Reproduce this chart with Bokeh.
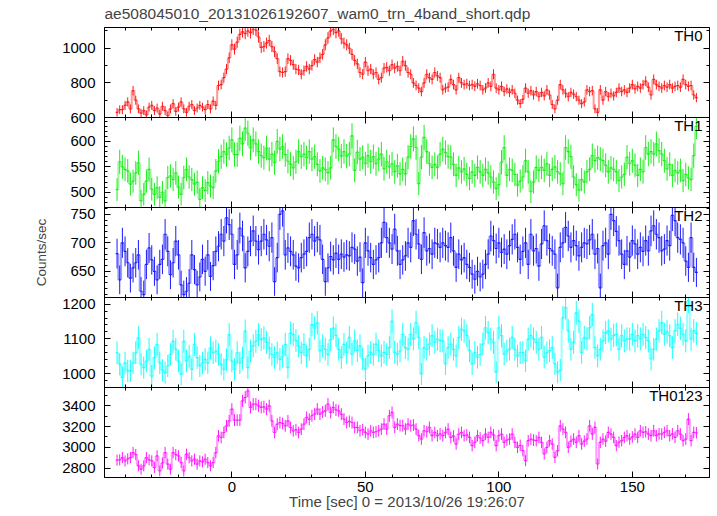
import numpy as np
from bokeh.plotting import figure
from bokeh.models import Range1d, LinearAxis, SingleIntervalTicker, Label, CustomLabelingPolicy
from bokeh.layouts import column
from bokeh.embed import file_html
from bokeh.resources import INLINE

TITLE = "ae508045010_20131026192607_wam0_trn_4band_short.qdp"
X_LABEL = "Time [sec] 0 = 2013/10/26 19:26:07"
Y_LABEL = "Counts/sec"
T_START = -43  # centre of first 1-s bin
X_RANGE = (-47.7, 178.9)

th0 = [630, 645, 645, 670, 690, 650, 755, 700, 650, 625,
       640, 615, 660, 670, 640, 655, 620, 665, 640, 610,
       650, 680, 635, 660, 690, 650, 630, 665, 675, 640,
       655, 670, 660, 645, 675, 650, 695, 670, 785, 790,
       830, 880, 945, 1020, 995, 1035, 1080, 1095, 1085, 1100,
       1090, 1110, 1105, 1065, 1005, 1010, 1030, 1045, 1010, 980,
       940, 865, 860, 865, 940, 930, 905, 880, 875, 850,
       870, 895, 880, 900, 935, 920, 945, 965, 1020, 1060,
       1100, 1110, 1090, 1100, 1055, 1030, 1020, 1000, 965, 930,
       910, 860, 850, 920, 870, 880, 850, 860, 820, 830,
       885, 890, 870, 905, 885, 895, 870, 925, 900, 860,
       850, 800, 785, 770, 750, 800, 850, 830, 820, 860,
       840, 830, 760, 770, 775, 820, 790, 760, 830, 800,
       790, 795, 785, 790, 780, 795, 785, 760, 770, 800,
       780, 850, 770, 760, 780, 750, 765, 745, 760, 740,
       700, 680, 705, 770, 740, 755, 730, 750, 720, 745,
       725, 760, 730, 675, 650, 700, 790, 760, 740, 720,
       745, 735, 720, 700, 680, 690, 760, 750, 755, 650,
       630, 760, 700, 750, 720, 740, 725, 745, 770, 750,
       760, 745, 770, 790, 765, 780, 770, 790, 810, 775,
       730, 820, 790, 780, 770, 785, 775, 790, 770, 780,
       785, 775, 820, 790, 780, 785, 730, 715]

th1 = [505, 560, 550, 545, 542, 516, 522, 538, 558, 483,
       496, 522, 545, 506, 496, 509, 490, 500, 483, 529,
       532, 525, 538, 510, 496, 529, 545, 530, 525, 516,
       520, 486, 509, 503, 519, 512, 509, 542, 561, 570,
       580, 574, 587, 603, 574, 574, 606, 595, 626, 616,
       587, 603, 595, 580, 572, 568, 587, 565, 575, 558,
       600, 585, 590, 574, 561, 555, 548, 560, 580, 570,
       575, 568, 580, 565, 570, 555, 542, 548, 545, 538,
       548, 603, 590, 585, 571, 580, 571, 575, 611, 543,
       579, 565, 569, 556, 572, 560, 570, 556, 565, 575,
       546, 560, 550, 556, 540, 552, 536, 545, 536, 569,
       590, 605, 588, 517, 569, 608, 580, 556, 549, 555,
       549, 575, 585, 578, 570, 569, 555, 533, 548, 540,
       546, 535, 527, 540, 533, 549, 540, 533, 545, 538,
       530, 520, 507, 515, 559, 588, 533, 545, 543, 535,
       514, 522, 530, 562, 540, 501, 520, 549, 543, 549,
       543, 556, 533, 545, 550, 540, 536, 517, 588, 580,
       570, 530, 515, 504, 525, 520, 540, 545, 572, 562,
       568, 565, 562, 553, 540, 548, 545, 540, 523, 530,
       535, 569, 556, 562, 553, 533, 545, 540, 588, 575,
       580, 575, 595, 582, 575, 562, 546, 555, 533, 543,
       538, 543, 523, 535, 528, 525, 572, 630]

th2 = [681, 635, 700, 685, 665, 638, 656, 665, 679, 615,
       609, 662, 691, 670, 650, 635, 662, 671, 715, 685,
       644, 665, 703, 679, 626, 609, 615, 629, 679, 653,
       626, 640, 671, 650, 679, 641, 660, 685, 694, 715,
       703, 744, 732, 715, 662, 679, 726, 712, 656, 685,
       703, 721, 703, 688, 703, 715, 705, 694, 709, 632,
       674, 750, 756, 679, 691, 685, 679, 659, 656, 674,
       680, 685, 709, 715, 703, 710, 705, 671, 632, 656,
       676, 670, 682, 671, 680, 675, 679, 677, 692, 689,
       668, 675, 630, 700, 686, 674, 662, 670, 674, 700,
       736, 709, 700, 689, 724, 686, 662, 670, 677, 700,
       692, 739, 715, 698, 671, 718, 686, 690, 680, 700,
       698, 692, 700, 695, 692, 709, 686, 657, 680, 670,
       674, 662, 657, 645, 636, 650, 640, 645, 662, 680,
       712, 704, 690, 700, 683, 689, 680, 695, 706, 715,
       692, 671, 685, 700, 662, 715, 686, 690, 659, 698,
       730, 704, 690, 686, 680, 621, 692, 700, 727, 712,
       692, 704, 695, 677, 692, 700, 698, 705, 715, 680,
       690, 621, 695, 700, 680, 750, 739, 720, 704, 680,
       662, 686, 675, 704, 698, 680, 692, 685, 704, 686,
       721, 730, 715, 709, 686, 689, 704, 695, 748, 739,
       709, 706, 700, 668, 657, 709, 657, 648]

th3 = [1060, 1027, 989, 1031, 1008, 1008, 1031, 1060, 1103, 1027,
       1017, 1036, 1070, 993, 1046, 1084, 1031, 1010, 1003, 1022,
       1055, 1093, 1070, 1036, 998, 1093, 1036, 1050, 1012, 1084,
       1046, 1022, 1030, 1041, 1031, 1074, 1060, 1065, 1055, 1027,
       1012, 1040, 1112, 1036, 1012, 1060, 1031, 1045, 1122, 1017,
       1065, 1080, 1093, 1112, 1098, 1103, 1090, 1074, 1055, 1046,
       1060, 1041, 1050, 1084, 1017, 1117, 1112, 1095, 1079, 1060,
       1084, 1051, 1070, 1141, 1131, 1146, 1065, 1080, 1070, 1055,
       1098, 1131, 1110, 1070, 1046, 1084, 1060, 1104, 1056, 1094,
       1066, 1080, 1042, 1013, 1051, 1061, 1055, 1085, 1066, 1051,
       1061, 1055, 1075, 1151, 1061, 1056, 1065, 1113, 1075, 1070,
       1113, 1100, 1147, 1104, 999, 1075, 1070, 1085, 1109, 1090,
       1099, 1095, 1094, 1028, 1075, 1085, 1070, 1051, 1104, 1128,
       1123, 1110, 1066, 1028, 1061, 1047, 1055, 1085, 1132, 1118,
       1099, 1090, 1004, 1132, 1109, 1056, 1065, 1070, 1104, 1070,
       1051, 1060, 1061, 1037, 1099, 1109, 1100, 1090, 1070, 1104,
       1047, 1060, 1066, 1075, 1028, 1004, 1010, 1161, 1190, 1123,
       1070, 1090, 1175, 1151, 1061, 1104, 1100, 1132, 1170, 1075,
       1051, 1070, 1094, 1118, 1123, 1099, 1110, 1113, 1070, 1109,
       1094, 1100, 1099, 1113, 1094, 1109, 1100, 1113, 1104, 1094,
       1042, 1070, 1099, 1123, 1147, 1113, 1120, 1109, 1075, 1123,
       1142, 1130, 1113, 1094, 1209, 1099, 1123, 1115]

th0123 = [2877, 2880, 2902, 2870, 2890, 2902, 2950, 2930, 2822, 2790,
          2822, 2902, 2880, 2870, 2806, 2918, 2774, 2850, 2950, 2838,
          2790, 2950, 2930, 2918, 2854, 2774, 2934, 2900, 2870, 2886,
          2838, 2870, 2860, 2886, 2854, 2822, 2854, 2950, 3111, 3095,
          3143, 3207, 3255, 3368, 3262, 3262, 3262, 3448, 3480, 3544,
          3384, 3416, 3416, 3400, 3384, 3390, 3368, 3400, 3255, 3143,
          3223, 3239, 3230, 3207, 3255, 3191, 3159, 3170, 3143, 3175,
          3223, 3288, 3270, 3304, 3320, 3368, 3320, 3340, 3352, 3416,
          3336, 3384, 3360, 3352, 3320, 3272, 3239, 3250, 3239, 3191,
          3192, 3160, 3170, 3144, 3128, 3160, 3144, 3150, 3160, 3176,
          3224, 3176, 3304, 3336, 3192, 3224, 3210, 3208, 3176, 3224,
          3208, 3215, 3176, 3112, 3080, 3160, 3150, 3192, 3112, 3144,
          3112, 3130, 3112, 3144, 3176, 3096, 3110, 3032, 3128, 3144,
          3112, 3120, 3096, 3016, 3048, 3112, 3090, 3064, 3128, 3096,
          3144, 3120, 3016, 3112, 3128, 3048, 3070, 3080, 3128, 3048,
          3000, 3020, 2968, 2872, 3064, 3080, 3070, 3064, 3096, 3048,
          2936, 3000, 3064, 3032, 2904, 2968, 3208, 3176, 3144, 3000,
          3060, 3080, 3048, 3112, 3032, 3060, 3080, 3208, 3128, 3192,
          2840, 3048, 3080, 3060, 3144, 3128, 3096, 3016, 3050, 3064,
          3096, 3112, 3080, 3100, 3128, 3096, 3160, 3144, 3150, 3128,
          3112, 3160, 3112, 3130, 3128, 3144, 3160, 3112, 3130, 3096,
          3160, 3128, 3064, 3080, 3272, 3064, 3144, 3140]

names = ["TH0", "TH1", "TH2", "TH3", "TH0123"]
series = [th0, th1, th2, th3, th0123]
colors = ["#ff1a1a", "#1aee1a", "#1a1aff", "#1affff", "#ff1aff"]
y_ranges = [(600, 1120), (470, 647), (604, 762), (960, 1219), (2710, 3576)]
y_major = [200, 50, 50, 100, 200]
y_minor_n = [2, 5, 5, 5, 2]

FONT = "Liberation Sans"
BORDER = 10

HIDE_LABELS = "for (const i of Array.from(indices)) { indices.unset(i) }\nreturn indices"


def style_axis(ax, ticker, labels, standoff=9):
    ax.ticker = ticker
    ax.major_tick_in = 6
    ax.major_tick_out = 0
    ax.minor_tick_in = 3
    ax.minor_tick_out = 0
    ax.axis_line_color = "black"
    ax.major_tick_line_color = "black"
    ax.minor_tick_line_color = "black"
    if labels:
        ax.major_label_text_font = FONT
        ax.major_label_text_font_size = "15px"
        ax.major_label_text_color = "black"
        ax.major_label_standoff = standoff
    else:
        ax.major_label_policy = CustomLabelingPolicy(code=HIDE_LABELS)
        ax.major_label_text_font_size = "1px"
        ax.major_label_standoff = 0


figs = []
n = len(series)
for k in range(n):
    first, last = k == 0, k == n - 1
    p = figure(frame_width=605, frame_height=90,
               x_range=Range1d(*X_RANGE), y_range=Range1d(*y_ranges[k]),
               output_backend="svg", toolbar_location=None,
               min_border_left=104, min_border_right=4,
               min_border_top=(23 if first else BORDER),
               min_border_bottom=(36 if last else BORDER))
    p.border_fill_color = None
    p.background_fill_color = "white"
    p.outline_line_color = "black"
    p.outline_line_width = 1
    p.grid.visible = False
    if first:
        p.title.text = TITLE
        p.title.text_font = FONT
        p.title.text_font_size = "15.5px"
        p.title.text_font_style = "normal"
        p.title.align = "left"
        p.title.standoff = 4
    else:
        p.margin = (-2 * BORDER, 0, 0, 0)

    bottom_ax = p.below[0]
    left_ax = p.left[0]
    xt = SingleIntervalTicker(interval=50, num_minor_ticks=5)
    yt = SingleIntervalTicker(interval=y_major[k], num_minor_ticks=y_minor_n[k])
    style_axis(bottom_ax, xt, last, standoff=4)
    style_axis(left_ax, yt, True)
    top_ax = LinearAxis()
    style_axis(top_ax, xt, False)
    p.add_layout(top_ax, "above")
    right_ax = LinearAxis()
    style_axis(right_ax, yt, False)
    p.add_layout(right_ax, "right")

    if k == 2:
        left_ax.axis_label = Y_LABEL
        left_ax.axis_label_text_font = FONT
        left_ax.axis_label_text_font_size = "13.5px"
        left_ax.axis_label_text_font_style = "normal"
        left_ax.axis_label_standoff = 18
    if last:
        bottom_ax.axis_label = X_LABEL
        bottom_ax.axis_label_text_font = FONT
        bottom_ax.axis_label_text_font_size = "15px"
        bottom_ax.axis_label_text_font_style = "normal"
        bottom_ax.axis_label_standoff = -2

    vals = np.array(series[k], dtype=float)
    t = T_START + np.arange(len(vals))
    err = np.sqrt(vals)
    c = colors[k]
    # vertical connectors of the step line
    p.segment(x0=t[:-1] + 0.5, y0=vals[:-1], x1=t[:-1] + 0.5, y1=vals[1:],
              line_color=c, line_alpha=0.45, line_width=2)
    # horizontal bin widths
    p.segment(x0=t - 0.5, y0=vals, x1=t + 0.5, y1=vals, line_color=c, line_width=1.2)
    # error bars
    p.segment(x0=t, y0=vals - err, x1=t, y1=vals + err, line_color=c, line_width=1)

    p.add_layout(Label(x=X_RANGE[1], y=y_ranges[k][1], x_offset=-7, y_offset=1,
                       text=names[k], text_align="right", text_baseline="top",
                       text_font=FONT, text_font_size="15px", text_color="black"))
    figs.append(p)

layout = column(*figs, spacing=0)
open("out.html", "w").write(file_html(layout, INLINE))
